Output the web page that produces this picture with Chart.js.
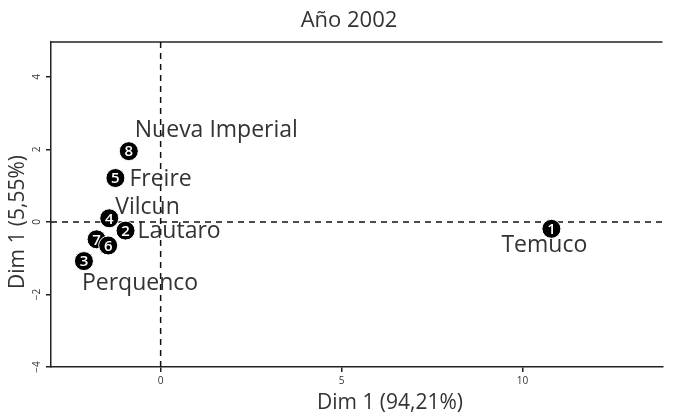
<!DOCTYPE html>
<html>
<head>
<meta charset="utf-8">
<script src="https://cdn.jsdelivr.net/npm/chart.js@4.4.1/dist/chart.umd.min.js"></script>
<style>
  html, body { margin: 0; padding: 0; background: #fff; }
  #wrap { width: 673px; height: 416px; }
</style>
</head>
<body>
<div id="wrap"><canvas id="pcaChart" width="673" height="416"></canvas></div>
<script>
// point ids and names (empty name = no label in the figure)
const ids = ['1', '2', '3', '4', '5', '7', '6', '8'];
const towns = ['Temuco', 'Lautaro', 'Perquenco', 'Vilcun', 'Freire', '', '', 'Nueva Imperial'];
const dim1 = [10.8, -0.97, -2.12, -1.42, -1.25, -1.77, -1.45, -0.88];
const dim2 = [-0.19, -0.24, -1.08, 0.10, 1.21, -0.48, -0.65, 1.95];
const xTicks = [0, 5, 10];
const yTicks = [-4, -2, 0, 2, 4];

// where each name sits relative to its point (px)
const labelOffsets = {
    'Temuco': [-50, 17],
    'Lautaro': [12, 1],
    'Perquenco': [-2, 22],
    'Vilcun': [6, -11],
    'Freire': [14, 1],
    'Nueva Imperial': [6, -21]
};

const FONT = '"Open Sans", "Noto Sans", sans-serif';
const TXT = '#333';

const decorPlugin = {
    id: 'decor',
    beforeDatasetsDraw(chart) {
        const { ctx, chartArea: a, scales: { x, y } } = chart;
        ctx.save();
        // top frame line
        ctx.strokeStyle = '#222';
        ctx.lineWidth = 1.5;
        ctx.beginPath();
        ctx.moveTo(a.left, a.top);
        ctx.lineTo(a.right, a.top);
        ctx.stroke();
        // dashed zero lines
        ctx.setLineDash([6, 5]);
        ctx.lineWidth = 1.5;
        ctx.strokeStyle = '#111';
        const x0 = x.getPixelForValue(0), y0 = y.getPixelForValue(0);
        ctx.beginPath();
        ctx.moveTo(x0, a.top);
        ctx.lineTo(x0, a.bottom);
        ctx.moveTo(a.left, y0);
        ctx.lineTo(a.right, y0);
        ctx.stroke();
        ctx.restore();
    },
    afterDatasetsDraw(chart) {
        const { ctx, scales: { y } } = chart;
        const pts = chart.getDatasetMeta(0).data;
        ctx.save();
        // numbers inside the points
        ctx.fillStyle = '#fff';
        ctx.font = '600 15px ' + FONT;
        ctx.textAlign = 'center';
        ctx.textBaseline = 'middle';
        pts.forEach((p, i) => ctx.fillText(ids[i], p.x, p.y + 1));
        // town names
        ctx.fillStyle = TXT;
        ctx.font = '23px ' + FONT;
        ctx.textAlign = 'left';
        pts.forEach((p, i) => {
            const name = towns[i];
            if (!name) return;
            const off = labelOffsets[name];
            ctx.fillText(name, p.x + off[0], p.y + off[1]);
        });
        // rotated y tick labels
        ctx.font = '10px ' + FONT;
        ctx.textAlign = 'center';
        yTicks.forEach(v => {
            const py = y.getPixelForValue(v);
            ctx.save();
            ctx.translate(37, py);
            ctx.rotate(-Math.PI / 2);
            ctx.fillText(String(v).replace('-', '\u2212'), 0, 0);
            ctx.restore();
        });
        // titles
        ctx.font = '22px ' + FONT;
        ctx.fillText('A\u00f1o 2002', 349, 21);
        ctx.font = '21px ' + FONT;
        ctx.fillText('Dim 1 (94,21%)', 390, 403);
        ctx.save();
        ctx.translate(18, 222);
        ctx.rotate(-Math.PI / 2);
        ctx.fillText('Dim 1 (5,55%)', 0, 0);
        ctx.restore();
        ctx.restore();
    }
};

new Chart(document.getElementById('pcaChart').getContext('2d'), {
    type: 'scatter',
    data: {
        datasets: [{
            data: dim1.map((v, i) => ({ x: v, y: dim2[i] })),
            pointRadius: 9.5,
            pointHoverRadius: 9.5,
            backgroundColor: '#000',
            borderColor: '#fff',
            borderWidth: 1
        }]
    },
    options: {
        responsive: false,
        animation: false,
        events: [],
        layout: { padding: { top: 42, right: 0, left: 0, bottom: 0 } },
        plugins: { legend: { display: false }, tooltip: { enabled: false }, title: { display: false } },
        scales: {
            x: {
                type: 'linear',
                min: -3.03,
                max: 13.87,
                afterBuildTicks: s => { s.ticks = xTicks.map(v => ({ value: v })); },
                afterFit: s => { s.height = 49; },
                grid: { drawOnChartArea: false, drawTicks: true, tickLength: 5, color: '#222', lineWidth: 1.5 },
                border: { display: true, color: '#222', width: 1.5 },
                ticks: { color: TXT, font: { size: 10, family: FONT }, padding: 3, maxRotation: 0 }
            },
            y: {
                type: 'linear',
                min: -4.0,
                max: 4.96,
                afterBuildTicks: s => { s.ticks = yTicks.map(v => ({ value: v })); },
                afterFit: s => { s.width = 51; },
                grid: { drawOnChartArea: false, drawTicks: true, tickLength: 5, color: '#222', lineWidth: 1.5 },
                border: { display: true, color: '#222', width: 1.5 },
                ticks: { color: 'rgba(0,0,0,0)', font: { size: 9 } }
            }
        }
    },
    plugins: [decorPlugin]
});
</script>
</body>
</html>
